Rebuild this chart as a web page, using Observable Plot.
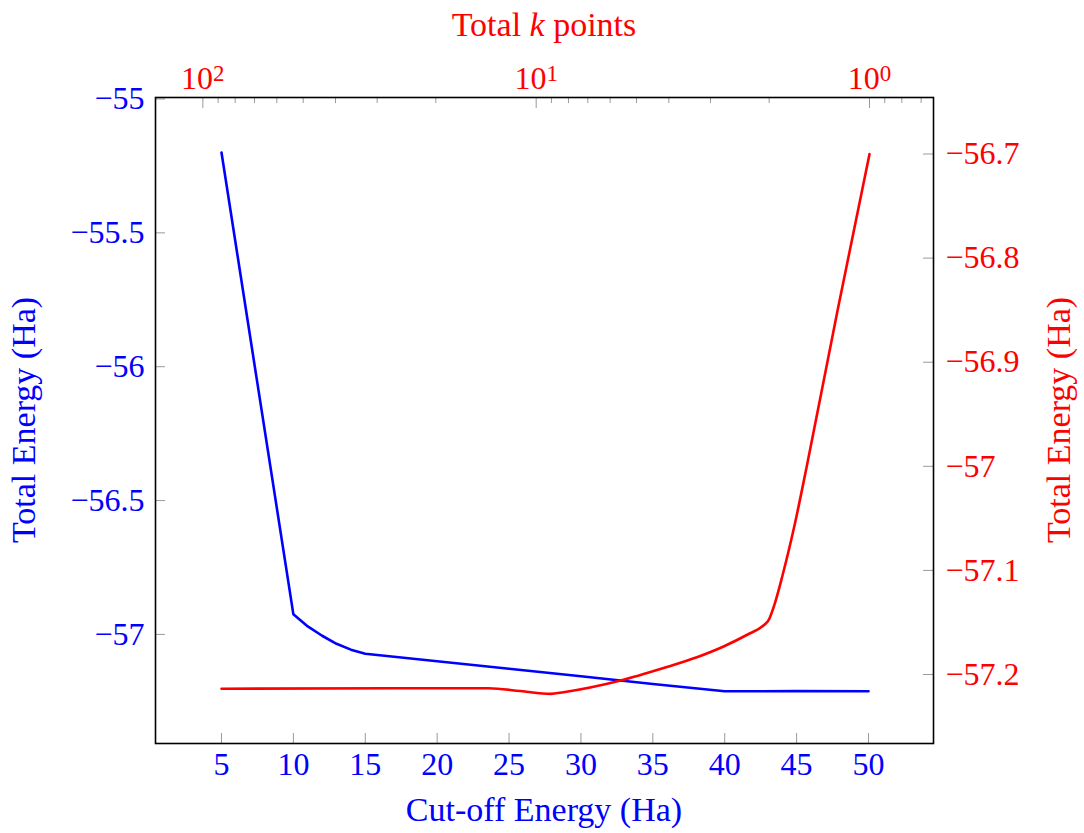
<!DOCTYPE html>
<html>
<head>
<meta charset="utf-8">
<script src="https://cdn.jsdelivr.net/npm/d3@7"></script>
<script src="https://cdn.jsdelivr.net/npm/@observablehq/plot@0.6"></script>
<style>
  body { margin: 0; background: #fff; }
  #chart { position: relative; width: 1084px; height: 833px; }
  #chart svg { position: absolute; left: 0; top: 0; }
</style>
</head>
<body>
<div id="chart"></div>
<script>
// Convergence with respect to the plane-wave cut-off (bottom / left axes)
const cutoffEnergy = [5, 10, 11, 12, 13, 14, 15, 20, 25, 30, 35, 40, 45, 50];
const cutoffTotalEnergy = [-55.2, -56.925, -56.97, -57.005, -57.035, -57.057, -57.072,
  -57.100, -57.128, -57.156, -57.185, -57.2125, -57.212, -57.2125];

// Convergence with respect to the number of k points (top / right axes)
const kPoints = [87.9, 13.9, 11.15, 9.05, 8.28, 5.58, 4.15, 3.28, 2.74, 2.32, 2.08, 2.01,
  1.928, 1.824, 1.679, 1.545, 1.247, 1.0];
const kTotalEnergy = [-57.2137, -57.2132, -57.2159, -57.2186, -57.2170, -57.2058, -57.1938,
  -57.1832, -57.1731, -57.1616, -57.1529, -57.1481, -57.1328, -57.1049, -57.0569, -57.0012,
  -56.8503, -56.7];

// Ticks
const cutoffTicks = [5, 10, 15, 20, 25, 30, 35, 40, 45, 50];
const leftTicks = [-55, -55.5, -56, -56.5, -57];
const rightTicks = [-56.7, -56.8, -56.9, -57, -57.1, -57.2];
const kMajorTicks = [100, 10, 1];
const kMinorTicks = [90, 80, 70, 60, 50, 40, 30, 20, 9, 8, 7, 6, 5, 4, 3, 2, 0.9, 0.8, 0.7];

const W = 1084, H = 833;
const M = {left: 155, right: 151, top: 97, bottom: 90};
const innerW = W - M.left - M.right;
const innerH = H - M.top - M.bottom;
const BLUE = "#0000ff", RED = "#ff0000", TICK = "#9a9a9a";
const FONT = "'Liberation Serif', 'DejaVu Serif', serif";
const fmt = d3.format("~g");

const common = {
  width: W, height: H,
  marginLeft: M.left, marginRight: M.right, marginTop: M.top, marginBottom: M.bottom,
  style: {fontFamily: FONT, background: "transparent", overflow: "visible"}
};

const cutoffData = cutoffEnergy.map((e, i) => ({e, E: cutoffTotalEnergy[i]}));
const kData = kPoints.map((k, i) => ({k, E: kTotalEnergy[i]}));

// Layer 1: cut-off energy series on the bottom and left axes
const plotA = Plot.plot({
  ...common,
  x: {domain: [0.41, 54.52]},
  y: {domain: [-57.4075, -54.9944]},
  marks: [
    Plot.tickX(cutoffTicks, {x: d => d, stroke: TICK, strokeWidth: 1, insetTop: innerH - 10}),
    Plot.tickY(leftTicks, {y: d => d, stroke: TICK, strokeWidth: 1, insetRight: innerW - 10}),
    Plot.axisX(cutoffTicks, {anchor: "bottom", tickSize: 0, tickPadding: 9, fontSize: 32,
      fill: BLUE, label: null, tickFormat: d => String(d)}),
    Plot.axisY(leftTicks, {anchor: "left", tickSize: 0, tickPadding: 11, fontSize: 32,
      fill: BLUE, label: null, tickFormat: fmt}),
    Plot.line(cutoffData, {x: "e", y: "E", stroke: BLUE, strokeWidth: 2.6, strokeLinejoin: "round"})
  ]
});

// Layer 2: k-point series on the top (log, decreasing) and right axes
const plotB = Plot.plot({
  ...common,
  x: {type: "log", domain: [0.6427, 138.7], reverse: true},
  y: {domain: [-57.2663, -56.6457]},
  marks: [
    Plot.tickX(kMinorTicks, {x: d => d, stroke: TICK, strokeWidth: 1, insetBottom: innerH - 6}),
    Plot.tickX(kMajorTicks, {x: d => d, stroke: TICK, strokeWidth: 1, insetBottom: innerH - 11}),
    Plot.tickY(rightTicks, {y: d => d, stroke: TICK, strokeWidth: 1, insetLeft: innerW - 10}),
    Plot.axisX(kMajorTicks, {anchor: "top", tickSize: 0, tickPadding: 9, fontSize: 32,
      fill: RED, label: null, tickFormat: d => "10^" + Math.round(Math.log10(d))}),
    Plot.axisY(rightTicks, {anchor: "right", tickSize: 0, tickPadding: 12, fontSize: 32,
      fill: RED, label: null, tickFormat: fmt}),
    Plot.line(kData, {x: "k", y: "E", stroke: RED, strokeWidth: 2.6, curve: "monotone-x"}),
    Plot.frame({stroke: "#000", strokeWidth: 1.6})
  ]
});

const chart = document.getElementById("chart");
chart.appendChild(plotA);
chart.appendChild(plotB);

// Powers of ten on the top axis: base plus raised exponent
d3.select(plotB).selectAll("text").each(function () {
  const t = this.textContent;
  if (!/^10\^-?\d+$/.test(t)) return;
  const exp = t.split("^")[1];
  const sel = d3.select(this);
  sel.text(null);
  sel.append("tspan").text("10");
  sel.append("tspan").attr("dy", -8).attr("font-size", 23).text(exp);
});

// Axis titles
const svg = d3.select(plotB);
const cx = M.left + innerW / 2, cy = M.top + innerH / 2;
function title(x, y, color, rotate, parts) {
  const t = svg.append("text")
    .attr("transform", `translate(${x},${y})` + (rotate ? " rotate(-90)" : ""))
    .attr("text-anchor", "middle")
    .attr("font-family", FONT)
    .attr("font-size", 34)
    .attr("fill", color);
  parts.forEach(([s, italic]) => {
    const sp = t.append("tspan").text(s);
    if (italic) sp.attr("font-style", "italic");
  });
}
title(cx, 821, BLUE, false, [["Cut-off Energy (Ha)"]]);
title(35, cy, BLUE, true, [["Total Energy (Ha)"]]);
title(1070, cy, RED, true, [["Total Energy (Ha)"]]);
title(cx, 36, RED, false, [["Total "], ["k", true], [" points"]]);
</script>
</body>
</html>
